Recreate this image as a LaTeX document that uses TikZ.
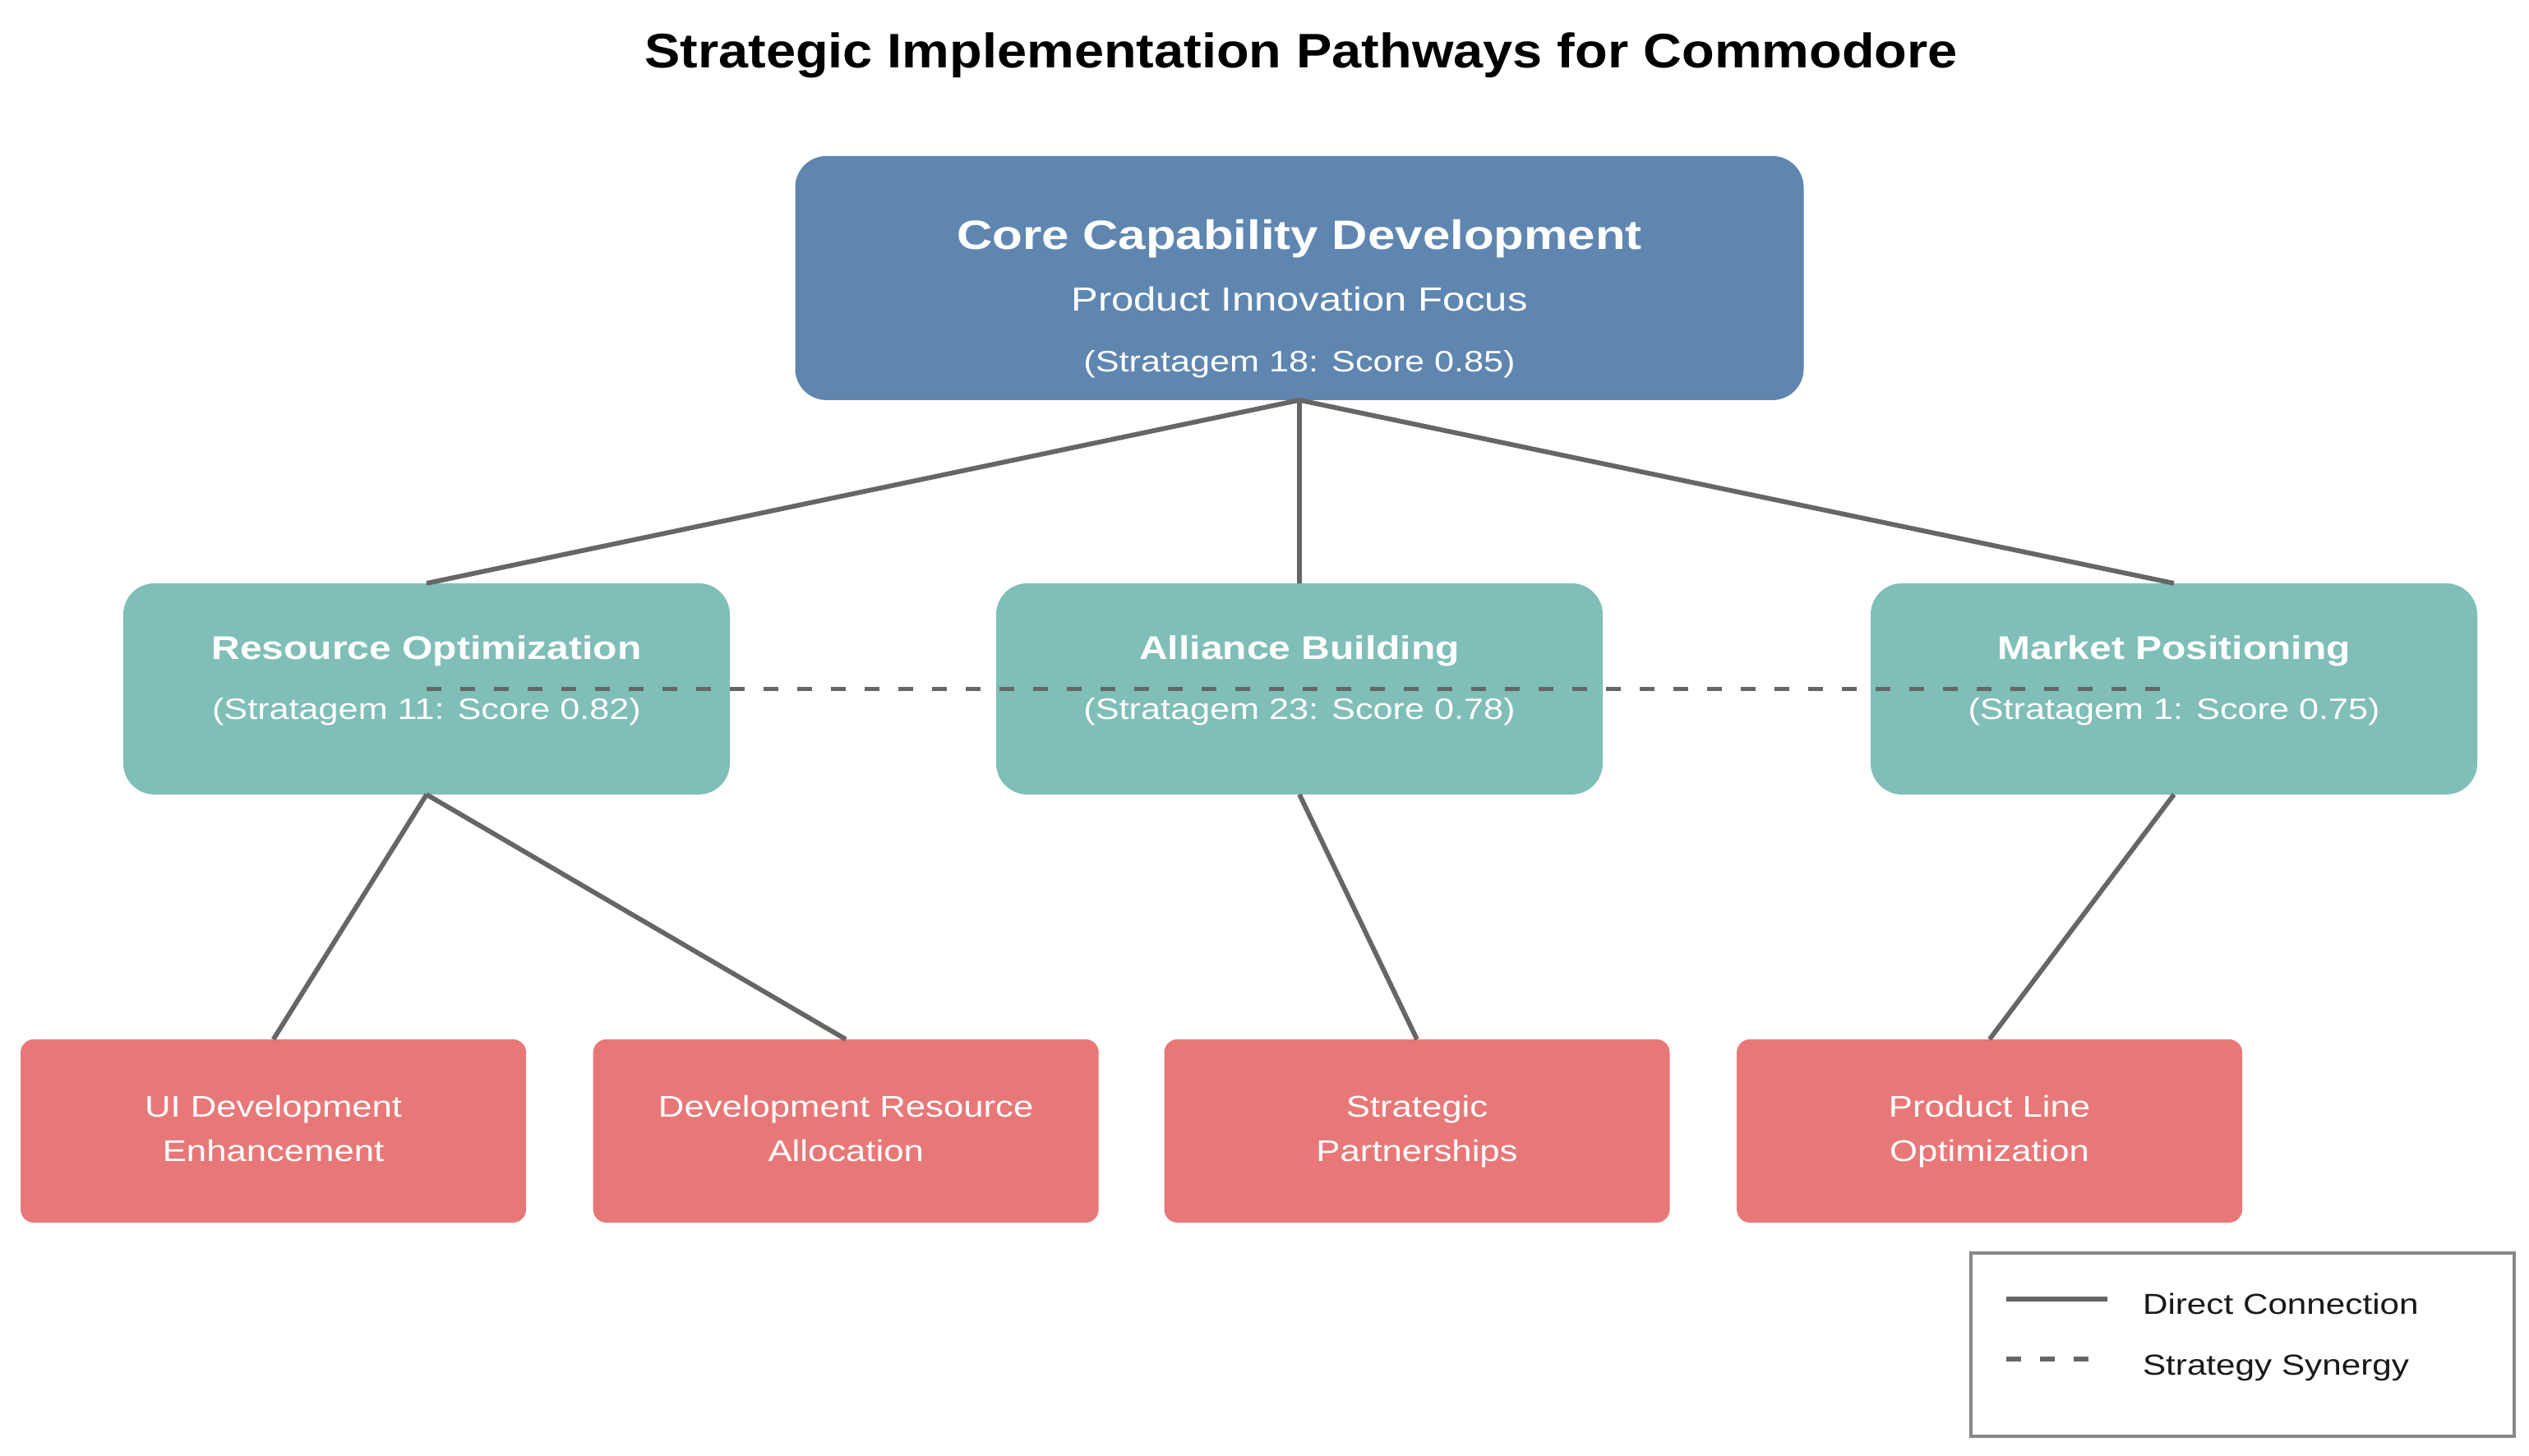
\documentclass[tikz,border=0pt]{standalone}
\usepackage{fontspec}
\setmainfont{Liberation Sans}[FakeStretch=1.2]
\newfontfamily\titlefont{Liberation Sans}[FakeStretch=1.1]
\definecolor{coreblue}{RGB}{94,134,176}
\definecolor{stratteal}{RGB}{128,190,184}
\definecolor{actred}{RGB}{232,120,120}
\definecolor{linegray}{RGB}{102,102,102}
\definecolor{legendgray}{RGB}{136,136,136}
\definecolor{legtext}{RGB}{25,25,25}
\begin{document}
\begin{tikzpicture}[x=1pt,y=-1pt,
  every node/.style={inner sep=0pt, outer sep=0pt},
  corebox/.style={fill=coreblue, rounded corners=9.5pt, minimum width=306.75pt, minimum height=74.25pt},
  stratbox/.style={fill=stratteal, rounded corners=9.5pt, minimum width=184.5pt, minimum height=64.25pt},
  actbox/.style={fill=actred, rounded corners=4pt, minimum width=153.75pt, minimum height=55.75pt},
  lbl/.style={anchor=base, text=white},
  conn/.style={draw=linegray, line width=1.45pt},
  synergy/.style={draw=linegray, line width=1.45pt, dash pattern=on 4.5pt off 5.75pt},
  legtxt/.style={anchor=base west, text=legtext, font=\fontsize{8.8}{10}\selectfont},
]
\useasboundingbox (0,0) rectangle (769.25,442.75);

% title
\node[anchor=base, font=\titlefont\bfseries\fontsize{14.75}{17}\selectfont] (title) at (395.75,20.5) {Strategic Implementation Pathways for Commodore};

% boxes
\node[corebox] (core) at (395.25,84.6) {};
\node[stratbox] (ro) at (129.75,209.6) {};
\node[stratbox] (ab) at (395.25,209.6) {};
\node[stratbox] (mp) at (661.25,209.6) {};
\node[actbox] (ui) at (83.15,344.1) {};
\node[actbox] (dr) at (257.3,344.1) {};
\node[actbox] (sp) at (431.0,344.1) {};
\node[actbox] (pl) at (605.15,344.1) {};

% direct connections
\draw[conn] (core.south) -- (ro.north);
\draw[conn] (core.south) -- (ab.north);
\draw[conn] (core.south) -- (mp.north);
\draw[conn] (ro.south) -- (ui.north);
\draw[conn] (ro.south) -- (dr.north);
\draw[conn] (ab.south) -- (sp.north);
\draw[conn] (mp.south) -- (pl.north);

% synergy
\draw[synergy] (ro.center) -- (mp.center);

% core texts
\node[lbl, font=\bfseries\fontsize{12.5}{15}\selectfont] (coreT) at (395.25,75.75) {Core Capability Development};
\node[lbl, font=\fontsize{10.2}{12}\selectfont] (coreS) at (395.25,94.5) {Product Innovation Focus};
\node[lbl, font=\fontsize{9}{11}\selectfont] (coreN) at (395.25,113) {(Stratagem 18: Score 0.85)};

% strategy texts
\node[lbl, font=\bfseries\fontsize{10}{12}\selectfont] (roT) at (129.75,200.5) {Resource Optimization};
\node[lbl, font=\fontsize{9}{11}\selectfont] (roN) at (129.75,218.75) {(Stratagem 11: Score 0.82)};
\node[lbl, font=\bfseries\fontsize{10}{12}\selectfont] (abT) at (395.25,200.5) {Alliance Building};
\node[lbl, font=\fontsize{9}{11}\selectfont] (abN) at (395.25,218.75) {(Stratagem 23: Score 0.78)};
\node[lbl, font=\bfseries\fontsize{10}{12}\selectfont] (mpT) at (661.25,200.5) {Market Positioning};
\node[lbl, font=\fontsize{9}{11}\selectfont] (mpN) at (661.25,218.75) {(Stratagem 1: Score 0.75)};

% action texts
\node[lbl, font=\fontsize{9.1}{11}\selectfont] (uiA) at (83.15,339.75) {UI Development};
\node[lbl, font=\fontsize{9.1}{11}\selectfont] (uiB) at (83.15,353.25) {Enhancement};
\node[lbl, font=\fontsize{9.1}{11}\selectfont] (drA) at (257.3,339.75) {Development Resource};
\node[lbl, font=\fontsize{9.1}{11}\selectfont] (drB) at (257.3,353.25) {Allocation};
\node[lbl, font=\fontsize{9.1}{11}\selectfont] (spA) at (431.0,339.75) {Strategic};
\node[lbl, font=\fontsize{9.1}{11}\selectfont] (spB) at (431.0,353.25) {Partnerships};
\node[lbl, font=\fontsize{9.1}{11}\selectfont] (plA) at (605.15,339.75) {Product Line};
\node[lbl, font=\fontsize{9.1}{11}\selectfont] (plB) at (605.15,353.25) {Optimization};

% legend
\node[draw=legendgray, line width=0.9pt, minimum width=165.25pt, minimum height=55.75pt] (legend) at (682.125,409.125) {};
\coordinate (lsA) at (610.25,395.25);
\coordinate (lsB) at (641,395.25);
\coordinate (ldA) at (610.25,413.5);
\coordinate (ldB) at (636,413.5);
\draw[conn] (lsA) -- (lsB);
\draw[synergy] (ldA) -- (ldB);
\node[legtxt] (legDirect) at (651.75,399.75) {Direct Connection};
\node[legtxt] (legSyn) at (651.75,418.25) {Strategy Synergy};
\end{tikzpicture}
\end{document}
